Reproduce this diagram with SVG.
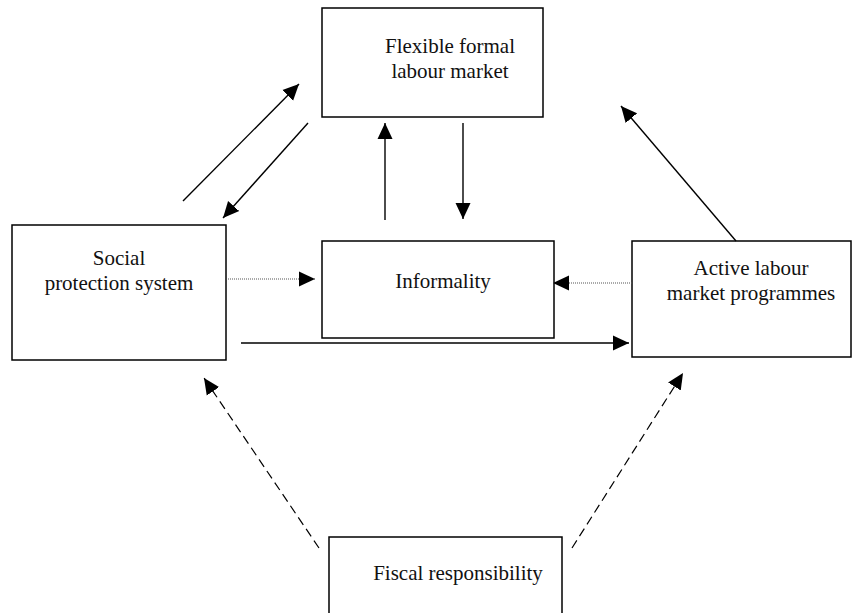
<svg xmlns="http://www.w3.org/2000/svg" width="852" height="613" viewBox="0 0 852 613">
  <style>
    .box { fill: #ffffff; stroke: #000000; stroke-width: 1.5; }
    .lbl { font-family: "Liberation Serif", "Times New Roman", "DejaVu Serif", serif; font-size: 21px; fill: #111111; text-anchor: middle; }
    .solid { stroke: #000000; stroke-width: 1.4; fill: none; }
    .dotted { stroke: #555555; stroke-width: 1.2; stroke-dasharray: 1 1; fill: none; }
    .dashed { stroke: #000000; stroke-width: 1.2; stroke-dasharray: 9 5; fill: none; }
  </style>
  <defs>
    <!-- filled triangular arrowhead, tip at the line end -->
    <marker id="head" markerUnits="userSpaceOnUse" markerWidth="17" markerHeight="16" refX="16" refY="8" orient="auto">
      <path d="M0,0.5 L16,8 L0,15.5 z" fill="#000000"/>
    </marker>
  </defs>
  <rect width="852" height="613" fill="#ffffff"/>

  <g id="flexible-formal-labour-market">
    <rect class="box" x="322" y="8" width="221" height="109"/>
    <text class="lbl" x="450" y="53">Flexible formal</text>
    <text class="lbl" x="450" y="78">labour market</text>
  </g>

  <g id="social-protection-system">
    <rect class="box" x="12" y="225" width="214" height="135"/>
    <text class="lbl" x="119" y="265">Social</text>
    <text class="lbl" x="119" y="290">protection system</text>
  </g>

  <g id="informality">
    <rect class="box" x="322" y="241" width="232" height="97"/>
    <text class="lbl" x="443" y="288">Informality</text>
  </g>

  <g id="active-labour-market-programmes">
    <rect class="box" x="632" y="241" width="219" height="116"/>
    <text class="lbl" x="751" y="275">Active labour</text>
    <text class="lbl" x="751" y="300">market programmes</text>
  </g>

  <g id="fiscal-responsibility">
    <rect class="box" x="329" y="537" width="233" height="90"/>
    <text class="lbl" x="458" y="580">Fiscal responsibility</text>
  </g>

  <g id="connectors">
    <line class="solid" x1="183" y1="201" x2="299" y2="84" marker-end="url(#head)"/>
    <line class="solid" x1="308" y1="123" x2="223" y2="218" marker-end="url(#head)"/>
    <line class="solid" x1="385" y1="220" x2="385" y2="123" marker-end="url(#head)"/>
    <line class="solid" x1="463" y1="123" x2="463" y2="219" marker-end="url(#head)"/>
    <line class="dotted" x1="228" y1="279" x2="315" y2="279" marker-end="url(#head)"/>
    <line class="dotted" x1="632" y1="283" x2="553" y2="283" marker-end="url(#head)"/>
    <line class="solid" x1="241" y1="343" x2="629" y2="343" marker-end="url(#head)"/>
    <line class="solid" x1="736" y1="241" x2="621" y2="106" marker-end="url(#head)"/>
    <line class="dashed" x1="319" y1="548" x2="204" y2="378" marker-end="url(#head)"/>
    <line class="dashed" x1="572" y1="548" x2="683" y2="373" marker-end="url(#head)"/>
  </g>
</svg>
